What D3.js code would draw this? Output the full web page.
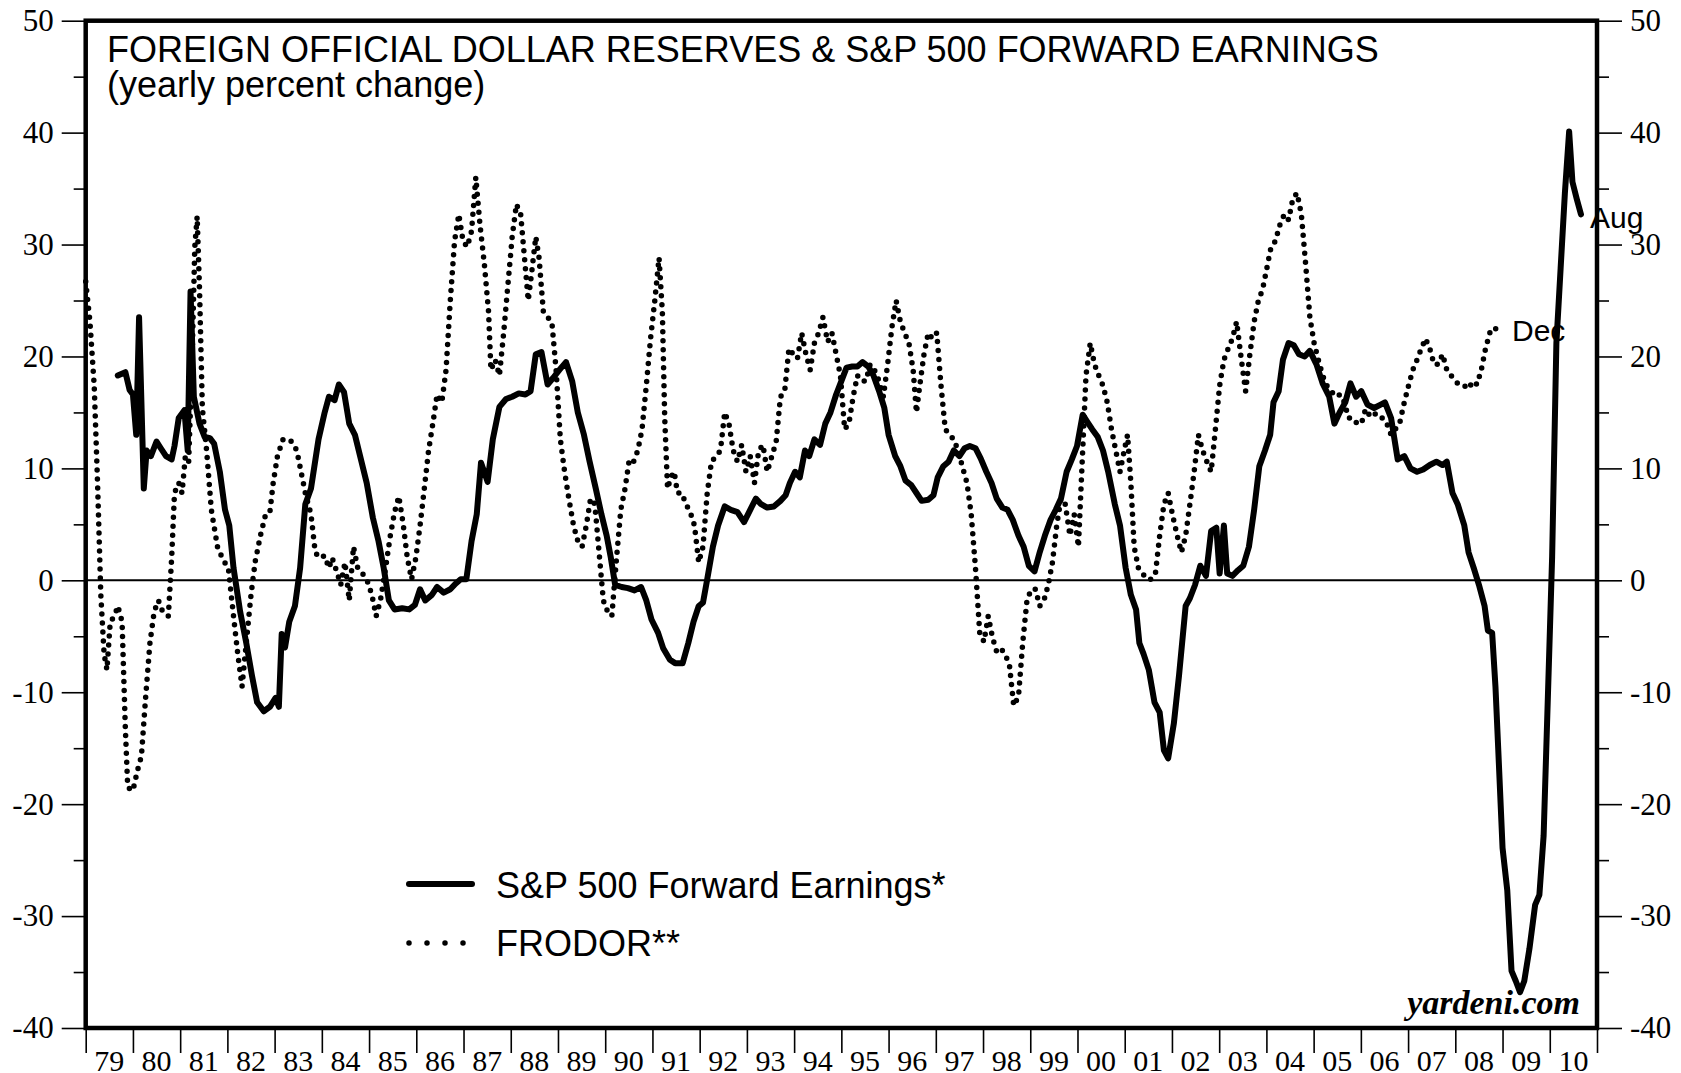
<!DOCTYPE html>
<html>
<head>
<meta charset="utf-8">
<script src="https://cdn.jsdelivr.net/npm/d3@7"></script>
<style>
  body { margin: 0; background: #fff; }
  svg { display: block; }
</style>
</head>
<body>
<div id="chart"></div>
<script>
// S&P 500 forward earnings, yearly % change (decimal year, value)
const earnYears = [1979.68,1979.84,1979.93,1980.00,1980.07,1980.13,1980.23,1980.29,1980.38,1980.50,1980.59,1980.70,1980.82,1980.88,1980.97,1981.09,1981.16,1981.22,1981.29,1981.41,1981.52,1981.63,1981.72,1981.84,1981.95,1982.04,1982.13,1982.27,1982.40,1982.52,1982.63,1982.77,1982.90,1983.02,1983.09,1983.15,1983.22,1983.31,1983.43,1983.54,1983.65,1983.77,1983.93,1984.06,1984.15,1984.27,1984.36,1984.47,1984.58,1984.70,1984.81,1984.95,1985.08,1985.20,1985.31,1985.42,1985.54,1985.70,1985.85,1985.97,1986.08,1986.19,1986.33,1986.44,1986.58,1986.72,1986.83,1986.94,1987.06,1987.17,1987.28,1987.37,1987.51,1987.62,1987.76,1987.90,1988.03,1988.17,1988.31,1988.42,1988.53,1988.65,1988.78,1988.90,1989.03,1989.17,1989.30,1989.42,1989.55,1989.67,1989.80,1989.92,1990.03,1990.12,1990.21,1990.35,1990.48,1990.62,1990.76,1990.87,1990.98,1991.12,1991.23,1991.37,1991.48,1991.64,1991.76,1991.87,1991.98,1992.07,1992.16,1992.28,1992.39,1992.53,1992.66,1992.80,1992.94,1993.07,1993.19,1993.30,1993.43,1993.57,1993.71,1993.82,1993.91,1994.02,1994.12,1994.23,1994.32,1994.43,1994.55,1994.66,1994.77,1994.89,1995.00,1995.11,1995.23,1995.34,1995.45,1995.57,1995.68,1995.80,1995.91,1996.00,1996.14,1996.25,1996.36,1996.48,1996.59,1996.70,1996.84,1996.95,1997.04,1997.16,1997.27,1997.38,1997.50,1997.61,1997.72,1997.84,1997.95,1998.07,1998.18,1998.29,1998.41,1998.52,1998.63,1998.75,1998.86,1998.97,1999.09,1999.20,1999.31,1999.43,1999.54,1999.65,1999.77,1999.88,1999.99,2000.11,2000.20,2000.31,2000.43,2000.54,2000.65,2000.79,2000.90,2001.02,2001.13,2001.24,2001.31,2001.40,2001.51,2001.63,2001.74,2001.83,2001.92,2002.04,2002.15,2002.29,2002.38,2002.49,2002.60,2002.72,2002.83,2002.94,2003.01,2003.10,2003.17,2003.28,2003.40,2003.51,2003.63,2003.74,2003.85,2003.97,2004.08,2004.15,2004.26,2004.35,2004.47,2004.58,2004.69,2004.81,2004.92,2005.06,2005.19,2005.33,2005.44,2005.55,2005.67,2005.78,2005.90,2006.01,2006.14,2006.28,2006.42,2006.51,2006.64,2006.78,2006.92,2007.05,2007.19,2007.32,2007.46,2007.60,2007.73,2007.82,2007.94,2008.05,2008.19,2008.28,2008.39,2008.50,2008.62,2008.69,2008.78,2008.85,2008.91,2009.00,2009.10,2009.19,2009.28,2009.37,2009.46,2009.57,2009.69,2009.78,2009.87,2009.96,2010.05,2010.14,2010.23,2010.32,2010.41,2010.48,2010.57,2010.66];
const earnValues = [18.3,18.6,17,16.6,13,23.5,8.2,11.6,11.1,12.4,11.8,11.1,10.8,12,14.5,15.2,11.6,25.8,16.4,14,12.8,12.7,12.2,9.7,6.3,4.9,1.1,-2.8,-5.6,-8.5,-10.9,-11.7,-11.3,-10.5,-11.3,-4.8,-6,-3.7,-2.3,1.1,6.8,8.2,12.6,15,16.4,16.1,17.5,16.8,14,13,11.1,8.7,5.6,3.5,1.1,-1.8,-2.6,-2.5,-2.6,-2.2,-0.8,-1.8,-1.3,-0.6,-1.1,-0.8,-0.3,0.1,0.1,3.5,5.9,10.5,8.8,12.6,15.5,16.2,16.4,16.7,16.6,16.9,20.2,20.4,17.5,18.1,18.8,19.5,17.8,15,13,10.6,8.2,5.9,4,2,-0.4,-0.6,-0.7,-0.9,-0.6,-1.8,-3.5,-4.7,-6.1,-7.1,-7.4,-7.4,-5.6,-3.7,-2.3,-2,0.1,3,4.9,6.6,6.3,6.1,5.2,6.3,7.3,6.8,6.5,6.6,7.1,7.6,8.7,9.7,9.2,11.6,11.1,12.6,12.1,14,15,16.6,17.8,19,19.1,19.1,19.5,19.1,18.3,16.9,15.4,13,11.1,10.2,8.9,8.5,7.8,7.1,7.2,7.6,9.2,10.2,10.6,11.6,11.1,11.8,12,11.8,10.9,9.7,8.7,7.3,6.5,6.3,5.4,4,3,1.3,0.8,2.5,4,5.4,6.3,7.3,9.7,10.8,12,14.8,14.2,13.5,12.8,11.6,9.7,6.8,4.9,1.1,-1.3,-2.6,-5.6,-6.6,-8,-10.9,-11.8,-15.2,-15.9,-12.8,-8.5,-2.3,-1.6,-0.4,1.3,0.4,4.4,4.7,0.6,4.9,0.6,0.4,0.9,1.3,3,6.3,10.2,11.6,13,15.9,16.9,19.7,21.2,21,20.2,20,20.5,19.3,17.6,16.4,14,15,15.9,17.6,16.4,16.9,15.7,15.4,15.7,15.9,14.5,10.8,11.1,10,9.7,9.9,10.3,10.6,10.3,10.6,7.8,6.8,4.9,2.5,1.1,-0.4,-2.3,-4.5,-4.7,-9.5,-15.2,-23.9,-27.7,-34.9,-35.8,-36.8,-35.8,-32.9,-29,-28.1,-22.8,-10.4,2.1,21.2,27.9,34.6,40.1,35.6,34.1,32.7];

// FRODOR, yearly % change (decimal year, value)
const frodorYears = [1979.00,1979.09,1979.18,1979.25,1979.32,1979.39,1979.45,1979.52,1979.61,1979.68,1979.77,1979.84,1979.89,1980.00,1980.09,1980.18,1980.27,1980.36,1980.45,1980.54,1980.63,1980.75,1980.82,1980.88,1980.97,1981.04,1981.11,1981.18,1981.25,1981.31,1981.36,1981.41,1981.47,1981.56,1981.66,1981.79,1981.91,1982.02,1982.13,1982.22,1982.31,1982.40,1982.50,1982.59,1982.70,1982.81,1982.90,1982.97,1983.06,1983.18,1983.27,1983.36,1983.47,1983.56,1983.65,1983.77,1983.86,1983.95,1984.06,1984.15,1984.22,1984.33,1984.40,1984.49,1984.58,1984.67,1984.76,1984.86,1984.95,1985.06,1985.15,1985.24,1985.35,1985.45,1985.54,1985.63,1985.72,1985.81,1985.90,1985.99,1986.08,1986.17,1986.26,1986.35,1986.44,1986.54,1986.63,1986.72,1986.81,1986.90,1986.99,1987.08,1987.17,1987.26,1987.35,1987.44,1987.53,1987.58,1987.67,1987.76,1987.85,1987.94,1988.03,1988.12,1988.21,1988.31,1988.37,1988.44,1988.53,1988.60,1988.69,1988.78,1988.87,1988.96,1989.05,1989.14,1989.23,1989.33,1989.42,1989.51,1989.60,1989.69,1989.78,1989.87,1989.96,1990.05,1990.14,1990.24,1990.33,1990.42,1990.51,1990.60,1990.69,1990.78,1990.87,1990.96,1991.05,1991.14,1991.21,1991.26,1991.32,1991.39,1991.46,1991.53,1991.62,1991.71,1991.80,1991.89,1991.98,1992.07,1992.16,1992.25,1992.35,1992.44,1992.53,1992.62,1992.71,1992.80,1992.89,1992.98,1993.07,1993.16,1993.25,1993.34,1993.43,1993.53,1993.62,1993.71,1993.80,1993.89,1993.98,1994.07,1994.16,1994.25,1994.34,1994.43,1994.52,1994.61,1994.71,1994.80,1994.89,1994.98,1995.07,1995.16,1995.25,1995.34,1995.43,1995.52,1995.61,1995.70,1995.80,1995.89,1995.98,1996.07,1996.16,1996.25,1996.34,1996.43,1996.52,1996.59,1996.66,1996.75,1996.84,1996.93,1997.02,1997.11,1997.20,1997.29,1997.38,1997.47,1997.56,1997.66,1997.75,1997.84,1997.93,1998.02,1998.11,1998.20,1998.29,1998.38,1998.47,1998.56,1998.65,1998.75,1998.84,1998.93,1999.02,1999.11,1999.20,1999.29,1999.38,1999.47,1999.56,1999.65,1999.74,1999.84,1999.93,2000.02,2000.09,2000.18,2000.27,2000.36,2000.45,2000.54,2000.63,2000.72,2000.81,2000.90,2000.99,2001.06,2001.13,2001.20,2001.29,2001.38,2001.47,2001.56,2001.65,2001.74,2001.83,2001.92,2002.01,2002.11,2002.20,2002.29,2002.38,2002.47,2002.56,2002.65,2002.74,2002.83,2002.92,2003.01,2003.10,2003.19,2003.28,2003.37,2003.47,2003.56,2003.65,2003.74,2003.83,2003.92,2004.01,2004.10,2004.19,2004.28,2004.38,2004.47,2004.56,2004.65,2004.74,2004.83,2004.92,2005.01,2005.10,2005.19,2005.28,2005.37,2005.47,2005.56,2005.65,2005.74,2005.83,2005.92,2006.01,2006.10,2006.19,2006.28,2006.37,2006.46,2006.55,2006.64,2006.73,2006.82,2006.92,2007.01,2007.10,2007.19,2007.28,2007.37,2007.46,2007.55,2007.64,2007.73,2007.82,2007.91,2008.00,2008.10,2008.19,2008.28,2008.37,2008.46,2008.55,2008.64,2008.73,2008.82,2008.91,2009.00];
const frodorValues = [26.7,23.1,17.4,8.8,-1.3,-6.6,-8,-3.7,-3.2,-2.3,-3.7,-13.3,-18.5,-18.8,-17.1,-15.7,-10.4,-5.6,-2.8,-1.8,-2.8,-3.2,2,7.8,8.7,7.8,11.1,10.6,19.3,29.8,32.5,26,15.4,11.6,6.3,3,1.8,1.1,-3.2,-6.6,-9.5,-5.6,-1.3,1.7,4,5.9,6.1,8.7,11.1,12.6,12.6,12.4,11.6,9.7,7.8,5.9,2.5,2,2.2,1.1,2,0.6,-0.4,1.6,-1.8,3,1.1,0.6,0.1,-1.3,-3.2,-1.8,1.1,4,6.1,7.5,5.1,2,0.1,2,4.9,8.2,11.6,14,16.6,15.9,18.8,25,30.3,32.7,30.3,29.8,31.2,36,31.7,28.3,24,18.8,19.7,18.3,22.1,26.4,30.7,33.6,32.7,27.9,25,27.4,30.7,28.8,24,23.5,23.1,18.8,12.6,9.7,7.3,4.9,3.5,3,4.9,7.3,6.8,2.5,-1.8,-2.8,-3.2,2,6.3,8.2,10.8,10.6,11.6,13.5,17.4,21.6,25,28.8,24,14.5,8.2,9.2,9.7,7.8,7.8,6.8,6.1,4.9,1.6,3,7.8,10.6,11.1,11.6,15,14,11.6,10.6,12.1,9.7,11.1,8.7,11.6,12.1,9.7,11.1,12.4,16.4,16.9,20.7,20.2,19.8,22.1,20.2,18.8,21.2,22.1,23.5,21.3,22.1,20.2,18.3,13.5,14,16.4,18.3,17.8,17.8,19.3,18.8,17.8,16.4,19.3,22.6,25,23.1,22.1,21.2,18.8,15,17.4,20.2,22.1,21.6,22.1,17.4,13.5,13,12.6,11.6,10.2,8.7,5.9,1.1,-4.7,-5.5,-3.2,-5.1,-6.4,-6.1,-6.6,-7.6,-11.2,-10.4,-5.6,-1.8,-0.8,-0.8,-2.3,-1.8,-0.4,1.6,4.9,7.3,6.8,4,5.9,3,9.7,18.3,21.2,19.3,18.3,17.4,15.9,13.5,11.6,9.7,11.6,13,8.7,3,1.1,0.6,0.1,0.1,0.6,4,6.8,7.8,5.9,4,2.5,4,6.8,9.7,13,11.6,10.6,9.7,13.5,17.4,19.7,20.7,21.6,23.1,19.7,16.9,20.2,23.1,25,26,27.9,29.8,30.3,31.7,32.7,32.2,34.1,34.6,32.7,28.3,23.5,21.2,19.7,18.3,17.4,16.9,16.4,16.6,15.9,14.5,14.5,14,14,15.3,14.7,15,14.5,14.5,14,13,13.5,14,15.9,17.4,18.8,19.7,20.7,21.6,20.7,19.3,19.3,20.2,18.8,18.3,17.8,17.4,17.4,17.1,17.8,17.5,18.8,20.7,22.1,22.6,22.3,22.3];

const yearLabels = ["79","80","81","82","83","84","85","86","87","88","89","90","91","92","93","94","95","96","97","98","99","00","01","02","03","04","05","06","07","08","09","10"];
const yMajor = [-40,-30,-20,-10,0,10,20,30,40,50];
const yMinor = [-35,-25,-15,-5,5,15,25,35,45];

const W = 1681, H = 1073;
const plotL = 85.7, plotR = 1597, plotT = 20.7, plotB = 1028;

const svg = d3.select("#chart").append("svg")
  .attr("width", W).attr("height", H);

const x = d3.scaleLinear().domain([1979, 2011]).range([plotL, plotR]);
const y = d3.scaleLinear().domain([-40, 50]).range([plotB, plotT]);

const serif = "'Liberation Serif', 'Times New Roman', serif";
const sans = "'Liberation Sans', Arial, sans-serif";

// y axes on both sides, long ticks every 10, short every 5
function yAxis(axisFn, vals, size, labels) {
  return axisFn(y).tickValues(vals).tickSize(size).tickPadding(8)
    .tickFormat(labels ? d => String(d) : "");
}
svg.append("g").attr("transform", `translate(${plotL},0)`)
  .call(yAxis(d3.axisLeft, yMajor, 24, true));
svg.append("g").attr("transform", `translate(${plotL},0)`)
  .call(yAxis(d3.axisLeft, yMinor, 12, false));
svg.append("g").attr("transform", `translate(${plotR},0)`)
  .call(yAxis(d3.axisRight, yMajor, 25, true));
svg.append("g").attr("transform", `translate(${plotR},0)`)
  .call(yAxis(d3.axisRight, yMinor, 12, false));

// bottom axis: year boundaries, labels centred between
const yearTicks = d3.range(1979, 2012);
svg.append("g").attr("transform", `translate(0,${plotB})`)
  .call(d3.axisBottom(x).tickValues(yearTicks).tickSize(25).tickFormat(""));
svg.append("g").selectAll("text").data(yearLabels).join("text")
  .attr("x", (d, i) => x(1979.5 + i))
  .attr("y", 1071)
  .attr("text-anchor", "middle")
  .style("font-family", serif).style("font-size", "30px")
  .text(d => d);

svg.selectAll(".domain").remove();
svg.selectAll(".tick line").attr("stroke", "#000").attr("stroke-width", 1.6);
svg.selectAll(".tick text")
  .style("font-family", serif).style("font-size", "31px").attr("fill", "#000");

// zero line
svg.append("line")
  .attr("x1", plotL).attr("x2", plotR).attr("y1", y(0)).attr("y2", y(0))
  .attr("stroke", "#000").attr("stroke-width", 2);

// series
const line = d3.line().x(d => x(d[0])).y(d => y(d[1]));
const frodor = d3.zip(frodorYears, frodorValues);
const earn = d3.zip(earnYears, earnValues);

svg.append("path").datum(frodor)
  .attr("d", line).attr("fill", "none").attr("stroke", "#000")
  .attr("stroke-width", 5.5).attr("stroke-linecap", "round")
  .attr("stroke-dasharray", "0 9");

svg.append("path").datum(earn)
  .attr("d", line).attr("fill", "none").attr("stroke", "#000")
  .attr("stroke-width", 6).attr("stroke-linejoin", "round")
  .attr("stroke-linecap", "round");

// frame
svg.append("rect")
  .attr("x", plotL).attr("y", plotT)
  .attr("width", plotR - plotL).attr("height", plotB - plotT)
  .attr("fill", "none").attr("stroke", "#000").attr("stroke-width", 4.5);

// title, two lines in one text block
const title = svg.append("text")
  .style("font-family", sans).style("font-size", "36px");
title.append("tspan").attr("x", 107).attr("y", 62)
  .text("FOREIGN OFFICIAL DOLLAR RESERVES & S&P 500 FORWARD EARNINGS");
title.append("tspan").attr("x", 107).attr("y", 97)
  .text("(yearly percent change)");

// end labels
svg.append("text").attr("x", 1590).attr("y", 228)
  .style("font-family", sans).style("font-size", "30px").text("Aug");
svg.append("text").attr("x", 1512).attr("y", 341)
  .style("font-family", sans).style("font-size", "30px").text("Dec");

// legend
const legend = svg.append("g");
legend.append("line").attr("x1", 409).attr("x2", 472).attr("y1", 884).attr("y2", 884)
  .attr("stroke", "#000").attr("stroke-width", 6).attr("stroke-linecap", "round");
legend.append("line").attr("x1", 409).attr("x2", 464).attr("y1", 943).attr("y2", 943)
  .attr("stroke", "#000").attr("stroke-width", 5.5).attr("stroke-linecap", "round")
  .attr("stroke-dasharray", "0 18");
legend.append("text").attr("x", 496).attr("y", 898)
  .style("font-family", sans).style("font-size", "36px")
  .text("S&P 500 Forward Earnings*");
legend.append("text").attr("x", 496).attr("y", 956)
  .style("font-family", sans).style("font-size", "36px")
  .text("FRODOR**");

// watermark
svg.append("text").attr("x", 1580).attr("y", 1014)
  .attr("text-anchor", "end")
  .style("font-family", serif).style("font-size", "34px")
  .style("font-weight", "bold").style("font-style", "italic")
  .text("yardeni.com");
</script>
</body>
</html>
